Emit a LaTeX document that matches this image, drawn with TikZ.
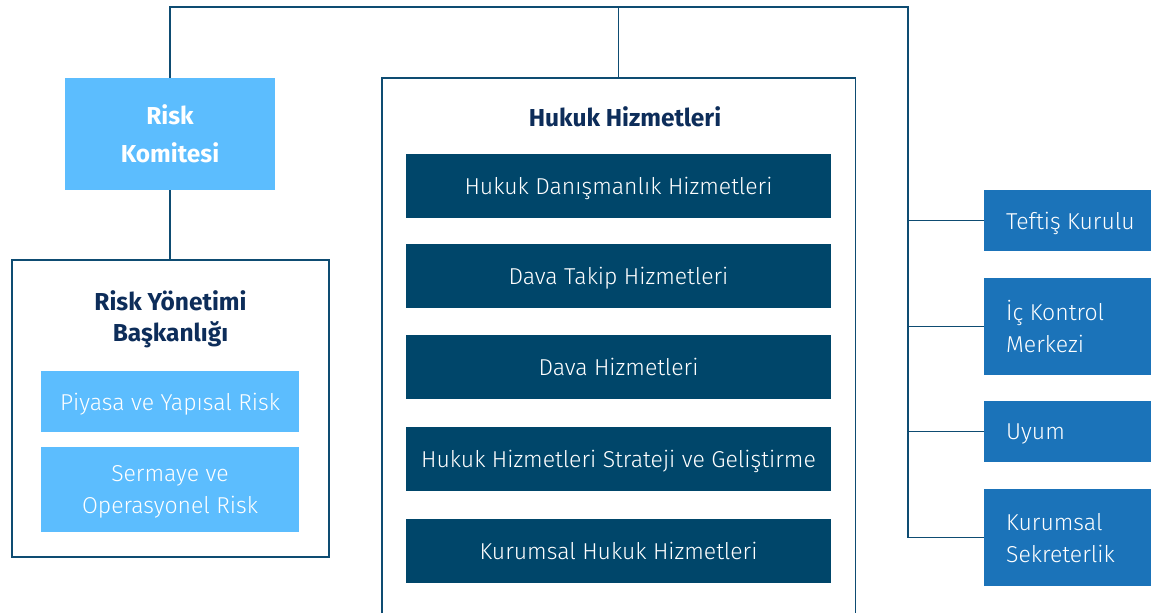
\documentclass[tikz,border=0pt]{standalone}
\usepackage{fontspec}
\setmainfont{Fira Sans}[UprightFont=* Light, BoldFont=* Bold]
\definecolor{lightb}{HTML}{5CBDFE}
\definecolor{darkb}{HTML}{00466A}
\definecolor{midb}{HTML}{1B73B9}
\definecolor{navy}{HTML}{0D2D5A}
\definecolor{linec}{HTML}{0E4C72}
\begin{document}
\begin{tikzpicture}[x=1pt,y=-1pt,
  conn/.style={draw=linec,line width=1.4pt},
  txt/.style={font=\fontsize{23}{32}\selectfont,text=white,align=center,inner sep=0pt,text depth=0pt},
  lbox/.style={txt,fill=lightb,minimum width=258pt},
  dbox/.style={txt,fill=darkb,minimum width=425pt,minimum height=64pt},
  rbox/.style={fill=midb,minimum width=167pt,inner sep=0pt},
  rtxt/.style={txt,align=left,anchor=west},
  ttl/.style={font=\fontsize{24.5}{31}\selectfont\bfseries,text=navy,align=center,inner sep=0pt}]
\useasboundingbox (0,0) rectangle (1151,613);
% boxes
\node[txt,fill=lightb,minimum width=210pt,minimum height=112pt,font=\fontsize{24.5}{38}\selectfont\bfseries] (rk) at (170,134) {Risk\\Komitesi};
\node[draw=linec,line width=1.4pt,fill=white,minimum width=317pt,minimum height=297pt,inner sep=0pt] (ry) at (170.5,408.5) {};
\node[ttl] (ryt) at (170.5,319) {Risk Yönetimi\\Başkanlığı};
\node[lbox,minimum height=61pt] (py) at (170,401.5) {Piyasa ve Yapısal Risk};
\node[lbox,minimum height=85pt] (sm) at (170,489.5) {Sermaye ve\\Operasyonel Risk};
% hukuk
\node[minimum width=473pt,minimum height=535pt,inner sep=0pt] (hk) at (618.5,345.5) {};
\draw[conn] (hk.south west) -- (hk.north west) -- (hk.north east) -- (hk.south east);
\node[ttl] (hkt) at (625,117) {Hukuk Hizmetleri};
\node[dbox] (d1) at (618.5,186) {Hukuk Danışmanlık Hizmetleri};
\node[dbox] (d2) at (618.5,276) {Dava Takip Hizmetleri};
\node[dbox] (d3) at (618.5,367) {Dava Hizmetleri};
\node[dbox] (d4) at (618.5,458.5) {Hukuk Hizmetleri Strateji ve Geliştirme};
\node[dbox] (d5) at (618.5,551) {Kurumsal Hukuk Hizmetleri};
% right
\node[rbox,minimum height=61pt] (r1) at (1067.5,220.5) {};
\node[rbox,minimum height=97pt] (r2) at (1067.5,326.5) {};
\node[rbox,minimum height=61pt] (r3) at (1067.5,431.5) {};
\node[rbox,minimum height=97pt] (r4) at (1067.5,537.5) {};
\node[rtxt] (r1t) at (1006,220.5) {Teftiş Kurulu};
\node[rtxt] (r2t) at (1006,326.5) {İç Kontrol\\Merkezi};
\node[rtxt] (r3t) at (1006,431.5) {Uyum};
\node[rtxt] (r4t) at (1006,537.5) {Kurumsal\\Sekreterlik};
% connectors
\coordinate (tl) at (170,7);
\coordinate (tr) at (908,7);
\coordinate (bus) at (908,537.5);
\draw[conn] (rk.north) -- (tl) -- (tr) -- (bus);
\draw[conn] (hk.north) -- (hk.north |- tl);
\draw[conn] (rk.south) -- (ry.north -| rk.south);
\draw[conn] (r1.west) -- (r1.west -| tr);
\draw[conn] (r2.west) -- (r2.west -| tr);
\draw[conn] (r3.west) -- (r3.west -| tr);
\draw[conn] (r4.west) -- (r4.west -| tr);
\end{tikzpicture}
\end{document}
